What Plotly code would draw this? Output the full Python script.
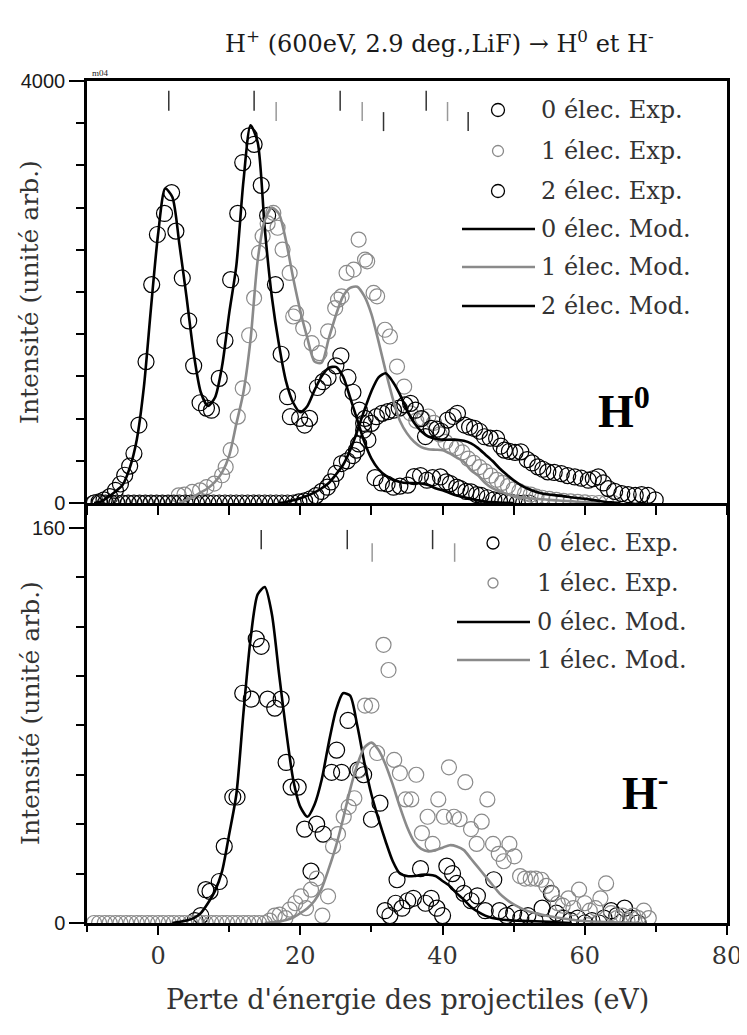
import plotly.graph_objects as go

# ---------------- H0 panel (top) ----------------
# model curves
top_mod0_x = [-9, -8, -7, -6, -5, -4, -3, -2, -1, 0, 1, 2, 3, 4, 5, 6, 7, 8, 9, 10,
              11, 12, 13, 14, 15, 16, 17, 18, 19, 20, 21, 22, 23, 24, 25, 26, 27, 28, 29, 30,
              31, 32, 33, 34, 35, 36, 37, 38, 39, 40, 41, 42, 43, 44, 45, 46, 47, 48, 49, 50]
top_mod0_y = [0, 15, 57, 110, 170, 330, 600, 1100, 1850, 2550, 2980, 2900, 2450, 1950, 1420, 1050, 920, 1000, 1300, 1800,
              2250, 3050, 3580, 3420, 2600, 1950, 1500, 1150, 950, 860, 920, 1070, 1200, 1280, 1290, 1200, 1000, 790, 580, 420,
              320, 260, 220, 200, 190, 190, 185, 170, 140, 120, 95, 70, 55, 40, 25, 15, 8, 4, 2, 0]

top_mod1_x = [3, 4, 5, 6, 7, 8, 9, 10, 11, 12, 13, 14, 15, 16, 17, 18, 19, 20, 21, 22,
              23, 24, 25, 26, 27, 28, 29, 30, 31, 32, 33, 34, 35, 36, 37, 38, 39, 40, 41, 42,
              43, 44, 45, 46, 47, 48, 49, 50, 51, 52, 53, 54, 55, 56, 57, 58, 59, 60, 61, 62]
top_mod1_y = [0, 30, 60, 100, 140, 200, 290, 450, 750, 1050, 1550, 2300, 2680, 2800, 2740, 2480, 2130, 1820, 1560, 1340,
              1330, 1560, 1780, 1960, 2040, 2050, 1960, 1790, 1530, 1250, 990, 780, 660, 580, 530, 510, 505, 500, 470, 430,
              390, 310, 260, 190, 140, 110, 85, 65, 55, 45, 40, 35, 30, 25, 20, 18, 12, 8, 4, 0]

top_mod2_x = [17, 18, 19, 20, 21, 22, 23, 24, 25, 26, 27, 28, 29, 30, 31, 32, 33, 34, 35, 36,
              37, 38, 39, 40, 41, 42, 43, 44, 45, 46, 47, 48, 49, 50, 51, 52, 53, 54, 55, 56,
              57, 58, 59, 60, 61, 62, 63, 64, 65]
top_mod2_y = [0, 10, 25, 45, 70, 100, 140, 190, 270, 360, 500, 680, 880, 1060, 1190, 1230, 1150, 1030, 880, 760,
              680, 630, 610, 600, 600, 600, 590, 565, 520, 460, 400, 330, 270, 215, 170, 135, 110, 90, 80, 72,
              65, 55, 48, 40, 30, 20, 10, 5, 0]

# experimental points
top_exp0_x = [-9.0, -8.3, -7.6, -6.8, -6.0, -5.3, -4.7, -4.0, -3.4, -2.7, -1.7, -0.9, -0.1, 0.9, 1.9, 2.5, 3.4, 4.3, 5.0, 5.9,
              6.8, 7.5, 8.6, 9.4, 10.2, 11.2, 11.9, 12.8, 13.5, 14.5, 15.4, 16.5, 17.3, 18.2, 18.6, 19.9, 20.6, 21.3, 22.4, 23.2,
              23.9, 25.0, 25.7, 26.7, 27.4, 28.3, 28.9, 29.5, 30.5, 31.4, 32.2, 33.1, 34.0, 35.1, 36.0, 36.9, 37.8, 38.6, 39.7, 40.5,
              41.1, 42.0, 42.5, 43.3, 44.0, 44.8, 45.4, 46.3, 47.2, 48.0, 48.9, 49.7, 50.5, 51.4, 52.2]
top_exp0_y = [0, 10, 30, 60, 120, 180, 263, 350, 469, 739, 1340, 2070, 2545, 2745, 2942, 2577, 2133, 1727, 1300, 950,
              900, 880, 1182, 1540, 2117, 2745, 3227, 3480, 3400, 3011, 2726, 2070, 1410, 1008, 818, 802, 739, 802, 1095, 1150,
              1190, 1300, 1395, 1190, 1050, 880, 755, 600, 240, 190, 180, 150, 160, 170, 250, 260, 216, 240, 247, 200,
              184, 150, 137, 110, 105, 80, 73, 50, 30, 20, 10, 5, 0, 0, 0]

top_exp1_x = [-9.0, -8.2, -7.4, -6.6, -5.8, -5.0, -4.2, -3.4, -2.6, -1.8, -1.0, -0.2, 0.6, 1.4, 2.2,
              2.9, 3.7, 4.8, 5.9, 6.8, 7.9, 9.0, 9.5, 10.2, 11.2, 11.9, 12.8, 13.5, 14.2, 14.7, 15.4, 16.2, 16.8, 17.5, 18.5,
              19.0, 19.4, 20.4, 21.6, 22.7, 23.9, 24.9, 25.3, 25.8, 26.5, 27.5, 28.2, 29.1, 29.4, 30.3, 30.8, 31.9, 32.6, 33.6, 34.6,
              35.5, 36.3, 37.2, 38.0, 38.8, 39.6, 40.4, 41.2, 42.0, 42.8, 43.6, 44.4, 45.2, 46.0, 46.8, 47.6, 48.4, 49.2, 50.0, 50.8,
              51.6, 52.4, 53.2, 54.0, 55.0, 56.0, 57.0, 58.0, 59.0, 60.0, 61.0, 62.0, 63.0, 64.0]
top_exp1_y = [0, 0, 0, 0, 0, 0, 0, 0, 0, 0, 0, 0, 0, 0, 0,
              73, 80, 105, 120, 150, 184, 263, 342, 501, 818, 1087, 1590, 1943, 2370, 2529, 2650, 2750, 2609, 2402, 2181,
              1768, 1800, 1658, 1515, 1420, 1626, 1848, 1927, 1959, 2181, 2212, 2497, 2307, 2291, 1991, 1959, 1642, 1578, 1293, 1103,
              850, 780, 800, 820, 760, 650, 580, 540, 520, 480, 420, 380, 340, 300, 260, 220, 190, 160, 130, 110,
              90, 80, 60, 50, 40, 30, 20, 15, 10, 5, 0, 0, 0, 0]

top_exp2_x = [-9.0, -8.2, -7.4, -6.6, -5.8, -5.0, -4.2, -3.4, -2.6, -1.8, -1.0, -0.2, 0.6, 1.4, 2.2, 3.0, 3.8, 4.6,
              5.4, 6.2, 7.0, 7.8, 8.6, 9.4, 10.2, 11.0, 11.8, 12.6, 13.4, 14.2, 15.0, 15.8, 16.6, 17.4, 18.2, 19.0,
              19.8, 20.6, 21.4, 22.2, 23.0, 23.8, 24.3, 25.0, 25.8, 26.6, 27.4, 27.9, 28.2, 28.9, 29.1, 30.0, 30.7, 31.5, 32.3, 33.1,
              33.9, 34.7, 35.5, 36.2, 37.0, 37.6, 38.4, 39.2, 39.8, 40.7, 41.5, 42.1, 43.1, 43.8, 44.5, 45.2, 45.9, 46.7, 47.6, 48.2,
              48.7, 49.4, 50.2, 51.0, 51.9, 52.6, 53.4, 54.1, 54.8, 55.7, 56.7, 57.6, 58.6, 59.5, 60.5, 61.2, 61.9, 62.6, 63.3, 64.2,
              65.2, 66.1, 67.1, 68.0, 68.9, 69.9]
top_exp2_y = [0, 0, 0, 0, 0, 0, 0, 0, 0, 0, 0, 0, 0, 0, 0, 0, 0, 0,
              0, 0, 0, 0, 0, 0, 0, 0, 0, 0, 0, 0, 0, 0, 0, 0, 0, 0,
              10, 20, 40, 70, 110, 150, 200, 280, 374, 400, 450, 501, 560, 690, 802, 755, 818, 850, 866, 880,
              900, 930, 945, 880, 800, 630, 707, 700, 680, 786, 820, 850, 739, 720, 707, 680, 628, 615, 612, 540,
              501, 490, 480, 485, 411, 380, 342, 320, 295, 290, 279, 260, 247, 235, 216, 230, 247, 190, 137, 110,
              89, 80, 73, 80, 73, 30]

# peak position markers (top)
top_marks0 = [1.5, 13.5, 25.6, 37.7]
top_marks1 = [16.6, 28.7, 40.7]
top_marks2 = [31.7, 43.6]

# ---------------- H- panel (bottom) ----------------
bot_mod0_x = [2, 3, 4, 5, 6, 7, 8, 9, 10, 11, 12, 13, 14, 15, 16, 17, 18, 19, 20, 21,
              22, 23, 24, 25, 26, 27, 28, 29, 30, 31, 32, 33, 34, 35, 36, 37, 38, 39, 40, 41,
              42, 43, 44, 45, 46, 47, 48, 49, 50, 52, 54, 56, 58]
bot_mod0_y = [0, 0.5, 1, 2, 4, 8, 13, 21, 36, 52, 85, 115, 133, 136, 125, 101, 78, 58, 47, 43,
              48, 58, 73, 86, 93, 92, 80, 65, 52, 42, 33, 25, 20, 19, 19, 19.5, 19.5, 19, 17, 15,
              12, 9.4, 6.5, 4.5, 3, 2, 1.5, 1.2, 1, 0.8, 0.6, 0.3, 0]

bot_mod1_x = [15, 16, 17, 18, 19, 20, 21, 22, 23, 24, 25, 26, 27, 28, 29, 30, 31, 32, 33, 34,
              35, 36, 37, 38, 39, 40, 41, 42, 43, 44, 45, 46, 47, 48, 49, 50, 51, 52, 53, 54,
              55, 56, 57, 58, 59, 60, 62, 64, 66, 68]
bot_mod1_y = [0, 0.3, 0.6, 1.2, 2.2, 4, 6, 9, 14, 22, 31, 42, 54, 64, 71, 73, 70, 64, 56, 47,
              39, 33, 30, 29, 29.5, 30.5, 31.5, 31, 29.5, 26, 22.5, 19, 15.5, 12, 9.5, 7.5, 6, 4.8, 4, 3.3,
              2.7, 2.2, 1.8, 1.4, 1, 0.8, 0.5, 0.3, 0.1, 0]

bot_exp0_x = [5.2, 6.0, 6.7, 7.3, 8.6, 9.3, 10.5, 11.1, 11.9, 13.1, 13.8, 14.5, 15.4, 16.4, 17.3, 18.0, 18.7, 19.7, 20.6, 21.5,
              22.3, 23.2, 24.4, 25.1, 25.8, 26.7, 28.1, 28.9, 30.0, 31.2, 31.9, 32.6, 33.4, 33.6, 34.3, 35.1, 35.9, 36.9, 37.6, 38.4,
              39.2, 40.0, 40.6, 41.4, 42.0, 43.0, 44.0, 44.9, 46.0, 47.2, 48.0, 49.0, 50.0, 51.0, 52.0, 53.0, 54.0, 55.3, 56.0, 57.0,
              58.0, 59.0, 60.0, 61.0, 62.0, 62.7, 63.7, 64.5, 65.6, 66.5, 67.5]
bot_exp0_y = [1, 3, 13.5, 12.8, 16.8, 31, 51, 51, 93, 90.6, 115, 112, 90.6, 87, 90.6, 65, 55, 55, 38, 21,
              40, 36, 61, 70, 61, 82, 62, 60, 42, 48.5, 5, 3, 8, 17.5, 6, 9, 10, 22, 8, 10,
              6, 3, 23, 20, 16, 12, 9, 11, 5, 17.5, 5, 3, 4, 2, 3, 1, 6, 12, 4, 2,
              1, 2, 0, 1, 0, 2, 5, 3, 6, 2, 0]

bot_exp1_x = [-9.0, -8.3, -7.5, -6.8, -6.0, -5.3, -4.5, -3.8, -3.0, -2.3, -1.5, -0.8, 0.0, 0.7, 1.5, 2.2, 3.0, 3.7, 4.5, 5.2,
              6.0, 6.7, 7.5, 8.2, 9.0, 9.7, 10.5, 11.2, 12.0, 12.7, 13.5, 14.2, 15.0,
              15.7, 16.4, 17.1, 17.9, 18.5, 19.3, 20.1, 20.8, 21.5, 22.3, 23.1, 23.9, 24.6, 25.3, 26.1, 26.8, 27.6, 28.4, 29.1, 30.0,
              30.8, 31.7, 32.4, 33.2, 34.0, 34.8, 35.6, 36.3, 37.1, 37.9, 38.6, 39.4, 40.2, 40.9, 41.6, 42.4, 43.2, 44.0, 44.8, 45.5,
              46.3, 47.1, 47.9, 48.6, 49.4, 50.1, 50.9, 51.6, 52.4, 53.1, 53.9, 54.6, 55.4, 56.2, 56.9, 57.7, 58.4, 59.2, 60.0, 60.7,
              61.5, 62.2, 63.0, 63.7, 64.5, 65.3, 66.0, 66.8, 67.5, 68.3, 69.0]
bot_exp1_y = [0, 0, 0, 0, 0, 0, 0, 0, 0, 0, 0, 0, 0, 0, 0, 0, 0, 0, 0, 0,
              0, 0, 0, 0, 0, 0, 0, 0, 0, 0, 0, 0, 0,
              1, 3, 3.4, 2, 5.4, 8, 10.8, 6, 13.5, 18, 3, 10.8, 31, 36, 43, 47, 50.5, 62, 88, 88,
              68.8, 112.6, 102.4, 66, 60.7, 50, 50, 60, 36.4, 43, 32, 50, 43, 63, 43, 42, 57, 38, 32, 41,
              50, 32, 28, 25, 32, 27, 19, 18, 18, 18, 17.5, 15, 12, 8, 7, 10, 6, 13.5, 8, 5,
              6, 10, 16, 4, 2, 3, 1, 3, 2, 5, 2]

bot_marks0 = [14.5, 26.6, 38.6]
bot_marks1 = [30.1, 41.7]

top_legend = ["0 élec. Exp.", "1 élec. Exp.", "2 élec. Exp.", "0 élec. Mod.", "1 élec. Mod.", "2 élec. Mod."]
bot_legend = ["0 élec. Exp.", "1 élec. Exp.", "0 élec. Mod.", "1 élec. Mod."]

GRAY = '#8a8a8a'
INK = '#1a1a1a'
SERIF = 'DejaVu Serif'

# page geometry: the figure div sits 8px in from the page corner (body margin)
PAGE_W, PAGE_H = 747, 1035
OFF = 8
PLOT_L, PLOT_R, PLOT_T, PLOT_B = 87, 727, 81, 923   # plot frame in page pixels
SPLIT = 503  # pixel row where the two panels meet


def px_x(px):
    return (px - PLOT_L) / (PLOT_R - PLOT_L)


def px_y(py):
    return (PLOT_B - py) / (PLOT_B - PLOT_T)


split = px_y(SPLIT)
fig = go.Figure()


def add_points(x, y, color, size, xa, ya):
    fig.add_trace(go.Scatter(x=x, y=y, mode='markers', xaxis=xa, yaxis=ya, showlegend=False,
                             marker=dict(symbol='circle-open', size=size, color=color,
                                         line=dict(width=1.2, color=color))))


def add_curve(x, y, color, xa, ya):
    fig.add_trace(go.Scatter(x=x, y=y, mode='lines', xaxis=xa, yaxis=ya, showlegend=False,
                             line=dict(color=color, width=2.6, shape='spline', smoothing=0.7)))


def add_marks(xs, y0, y1, color, xa, ya):
    lx, ly = [], []
    for v in xs:
        lx += [v, v, None]
        ly += [y0, y1, None]
    fig.add_trace(go.Scatter(x=lx, y=ly, mode='lines', xaxis=xa, yaxis=ya, showlegend=False,
                             line=dict(color=color, width=1.5)))


# top panel
add_points(top_exp0_x, top_exp0_y, 'black', 16, 'x', 'y')
add_points(top_exp1_x, top_exp1_y, GRAY, 15, 'x', 'y')
add_points(top_exp2_x, top_exp2_y, 'black', 16, 'x', 'y')
add_curve(top_mod0_x, top_mod0_y, 'black', 'x', 'y')
add_curve(top_mod1_x, top_mod1_y, GRAY, 'x', 'y')
add_curve(top_mod2_x, top_mod2_y, 'black', 'x', 'y')
add_marks(top_marks0, 3717, 3908, '#333333', 'x', 'y')
add_marks(top_marks1, 3620, 3801, '#999999', 'x', 'y')
add_marks(top_marks2, 3525, 3705, '#333333', 'x', 'y')

# bottom panel
add_points(bot_exp0_x, bot_exp0_y, 'black', 16, 'x2', 'y2')
add_points(bot_exp1_x, bot_exp1_y, GRAY, 15, 'x2', 'y2')
add_curve(bot_mod0_x, bot_mod0_y, 'black', 'x2', 'y2')
add_curve(bot_mod1_x, bot_mod1_y, GRAY, 'x2', 'y2')
add_marks(bot_marks0, 151.3, 159.1, '#333333', 'x2', 'y2')
add_marks(bot_marks1, 146.2, 153.7, '#999999', 'x2', 'y2')

axis_common = dict(showline=True, linewidth=2.5, linecolor='black', showgrid=False, zeroline=False,
                   ticks='outside', tickwidth=2, tickcolor='black')

fig.update_layout(
    width=PAGE_W - OFF, height=PAGE_H - OFF,
    margin=dict(l=PLOT_L - OFF, r=PAGE_W - PLOT_R, t=PLOT_T - OFF, b=PAGE_H - PLOT_B, autoexpand=False),
    paper_bgcolor='white', plot_bgcolor='white',
    font=dict(family=SERIF, color=INK),
    showlegend=False,
    xaxis=dict(domain=[0, 1], anchor='y', range=[-10, 80], mirror=True, dtick=10, tick0=0,
               ticklen=9, showticklabels=False, **axis_common),
    yaxis=dict(domain=[split, 1], anchor='x', range=[0, 4000], mirror=True, dtick=4000, tick0=0,
               ticklen=15, tickfont=dict(family='Liberation Sans', size=20, color=INK),
               minor=dict(dtick=400, tick0=0, ticklen=8, tickwidth=2, ticks='outside', tickcolor='black'),
               **axis_common),
    xaxis2=dict(domain=[0, 1], anchor='y2', range=[-10, 80], mirror=False, dtick=20, tick0=0,
                ticklen=9, tickfont=dict(family=SERIF, size=24, color='#333333'),
                minor=dict(dtick=10, tick0=0, ticklen=6, tickwidth=2, ticks='outside', tickcolor='black'),
                **axis_common),
    yaxis2=dict(domain=[0, split], anchor='x2', range=[0, 170], mirror=True, dtick=160, tick0=0,
                ticklen=15, tickfont=dict(family='Liberation Sans', size=20, color=INK),
                minor=dict(dtick=20, tick0=0, ticklen=8, tickwidth=2, ticks='outside', tickcolor='black'),
                **axis_common),
)

ann = []
shapes = []

# titles
ann.append(dict(text="H<sup>+</sup> (600eV, 2.9 deg.,LiF) \u2192 H<sup>0</sup> et H<sup>-</sup>",
                x=px_x(439), y=px_y(42), xref='paper', yref='paper', showarrow=False,
                xanchor='center', yanchor='middle', font=dict(family=SERIF, size=24, color=INK)))
ann.append(dict(text="Perte d'énergie des projectiles (eV)", x=px_x(407), y=px_y(999),
                xref='paper', yref='paper', showarrow=False, xanchor='center', yanchor='middle',
                font=dict(family=SERIF, size=27, color='#333333')))
for cy in (292, 713):
    ann.append(dict(text="Intensité (unité arb.)", x=px_x(30), y=px_y(cy), xref='paper', yref='paper',
                    showarrow=False, textangle=-90, xanchor='center', yanchor='middle',
                    font=dict(family=SERIF, size=25, color='#333333')))
ann.append(dict(text="m04", x=px_x(100), y=px_y(73), xref='paper', yref='paper', showarrow=False,
                xanchor='center', yanchor='middle', font=dict(family='Liberation Serif', size=9, color=INK)))

# big ion labels
ann.append(dict(text="<b>H<sup>0</sup></b>", x=px_x(624), y=px_y(408), xref='paper', yref='paper',
                showarrow=False, xanchor='center', yanchor='middle',
                font=dict(family='Liberation Serif', size=46, color='black')))
ann.append(dict(text="<b>H<sup>-</sup></b>", x=px_x(645), y=px_y(790), xref='paper', yref='paper',
                showarrow=False, xanchor='center', yanchor='middle',
                font=dict(family='Liberation Serif', size=46, color='black')))


def legend_block(labels, styles, rows, mx, lx0, lx1, tx):
    for label, (kind, color, r), py in zip(labels, styles, rows):
        if kind == 'marker':
            shapes.append(dict(type='circle', xref='paper', yref='paper', xsizemode='pixel', ysizemode='pixel',
                               xanchor=px_x(mx), yanchor=px_y(py), x0=-r, x1=r, y0=-r, y1=r,
                               line=dict(color=color, width=1.3)))
        else:
            shapes.append(dict(type='line', xref='paper', yref='paper', x0=px_x(lx0), x1=px_x(lx1),
                               y0=px_y(py), y1=px_y(py), line=dict(color=color, width=2.6)))
        ann.append(dict(text=label, x=px_x(tx), y=px_y(py), xref='paper', yref='paper', showarrow=False,
                        xanchor='left', yanchor='middle', font=dict(family=SERIF, size=24, color='#333333')))


legend_block(top_legend,
             [('marker', 'black', 6.5), ('marker', GRAY, 5.5), ('marker', 'black', 6.5),
              ('line', 'black', 0), ('line', GRAY, 0), ('line', 'black', 0)],
             [110, 151, 191, 229, 267, 306], 498, 462, 535, 539)
legend_block(bot_legend,
             [('marker', 'black', 6), ('marker', GRAY, 5), ('line', 'black', 0), ('line', GRAY, 0)],
             [543, 583, 622, 660], 493, 457, 530, 535)

fig.update_layout(annotations=ann, shapes=shapes)
fig.write_html("out.html")
